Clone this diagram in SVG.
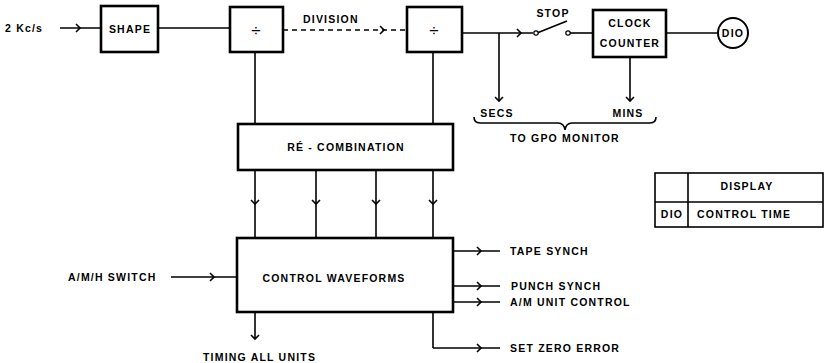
<svg xmlns="http://www.w3.org/2000/svg" width="825" height="363" viewBox="0 0 825 363">
<defs>
<marker id="chev" viewBox="-6 -6 12 12" markerWidth="12" markerHeight="12" markerUnits="userSpaceOnUse" orient="auto">
<path d="M-4,-4 L0,0 L-4,4" fill="none" stroke="#000" stroke-width="1.6"/>
</marker>
</defs>
<style>
.box{fill:#fff;stroke:#000;stroke-width:2.6}
.ln{fill:none;stroke:#000;stroke-width:1.6}
.dash{fill:none;stroke:#000;stroke-width:1.6;stroke-dasharray:5,4}
.arr{marker-mid:url(#chev)}
.arre{marker-end:url(#chev)}
text{font-family:"Liberation Sans",Arial,sans-serif;font-weight:bold;font-size:10.5px;fill:#000;letter-spacing:1.2px}
.c{text-anchor:middle}
.op{font-size:17px;font-weight:normal;letter-spacing:0}
</style>
<g id="connectors">
<path class="ln arr" d="M60,28 L80,28 L101,28"/>
<path class="ln" d="M158,28 L230,28"/>
<path class="dash arr" d="M283,30 L384,30 L407,30"/>
<path class="ln" d="M255,52 L255,124"/>
<path class="ln" d="M433,52 L433,124"/>
<path class="ln arr" d="M462,33 L521,33 L533,33"/>
<path class="ln arre" d="M499,33 L499,101"/>
<path class="ln" d="M537,33 L567,21"/>
<circle cx="536" cy="33" r="2.2" fill="#fff" stroke="#000" stroke-width="1.2"/>
<circle cx="568" cy="33" r="2.2" fill="#fff" stroke="#000" stroke-width="1.2"/>
<path class="ln" d="M570,33 L593,33"/>
<path class="ln" d="M666,33 L718,33"/>
<path class="ln arre" d="M630,57 L630,101"/>
<path class="ln" d="M474,117 Q474,123 480,123 L558,123 Q564,123 565,130 Q566,123 572,123 L650,123 Q656,123 656,117"/>
<path class="ln arr" d="M255,170 L255,204 L255,238"/>
<path class="ln arr" d="M316,170 L316,204 L316,238"/>
<path class="ln arr" d="M376,170 L376,204 L376,238"/>
<path class="ln arr" d="M433,170 L433,204 L433,238"/>
<path class="ln arr" d="M171,277 L214,277 L237,277"/>
<path class="ln arre" d="M255,312 L255,339"/>
<path class="ln arr" d="M453,251 L481,251 L500,251"/>
<path class="ln arr" d="M453,286 L481,286 L500,286"/>
<path class="ln arr" d="M453,302 L481,302 L500,302"/>
<path class="ln" d="M433,312 L433,348"/>
<path class="ln arr" d="M433,348 L481,348 L500,348"/>
</g>
<g id="input"><text x="5" y="32">2 Kc/s</text></g>
<g id="shape"><rect class="box" x="101" y="6" width="57" height="46"/><text class="c" x="130" y="33">SHAPE</text></g>
<g id="div1"><rect class="box" x="230" y="7" width="53" height="45"/><text class="c op" x="256" y="36">÷</text></g>
<g id="division-label"><text x="303" y="23">DIVISION</text></g>
<g id="div2"><rect class="box" x="407" y="7" width="55" height="45"/><text class="c op" x="434" y="36">÷</text></g>
<g id="stop"><text class="c" x="553" y="17">STOP</text></g>
<g id="clock"><rect class="box" x="593" y="10" width="73" height="47"/><text class="c" x="630" y="27">CLOCK</text><text class="c" x="630" y="47">COUNTER</text></g>
<g id="dio"><circle cx="733" cy="33" r="15" fill="#fff" stroke="#000" stroke-width="2"/><text class="c" x="733" y="37">DIO</text></g>
<g id="secs"><text class="c" x="497" y="117">SECS</text></g>
<g id="mins"><text class="c" x="628" y="117">MINS</text></g>
<g id="gpo"><text class="c" x="565" y="142">TO GPO  MONITOR</text></g>
<g id="recombination"><rect class="box" x="238" y="124" width="215" height="46"/><text class="c" x="346" y="151">RÉ - COMBINATION</text></g>
<g id="table">
<rect x="655" y="173" width="168" height="54" fill="#fff" stroke="#000" stroke-width="1.6"/>
<path class="ln" d="M655,202 L823,202 M688,173 L688,227"/>
<text class="c" x="747" y="190">DISPLAY</text>
<text class="c" x="672" y="218">DIO</text>
<text x="697" y="218">CONTROL TIME</text>
</g>
<g id="control"><rect class="box" x="237" y="238" width="216" height="74"/><text class="c" x="334" y="282">CONTROL  WAVEFORMS</text></g>
<g id="amh"><text x="68" y="281">A/M/H SWITCH</text></g>
<g id="timing"><text x="203" y="361">TIMING ALL UNITS</text></g>
<g id="outputs">
<text x="510" y="255">TAPE  SYNCH</text>
<text x="511" y="290">PUNCH SYNCH</text>
<text x="510" y="306">A/M  UNIT CONTROL</text>
<text x="510" y="352">SET ZERO ERROR</text>
</g>
</svg>
